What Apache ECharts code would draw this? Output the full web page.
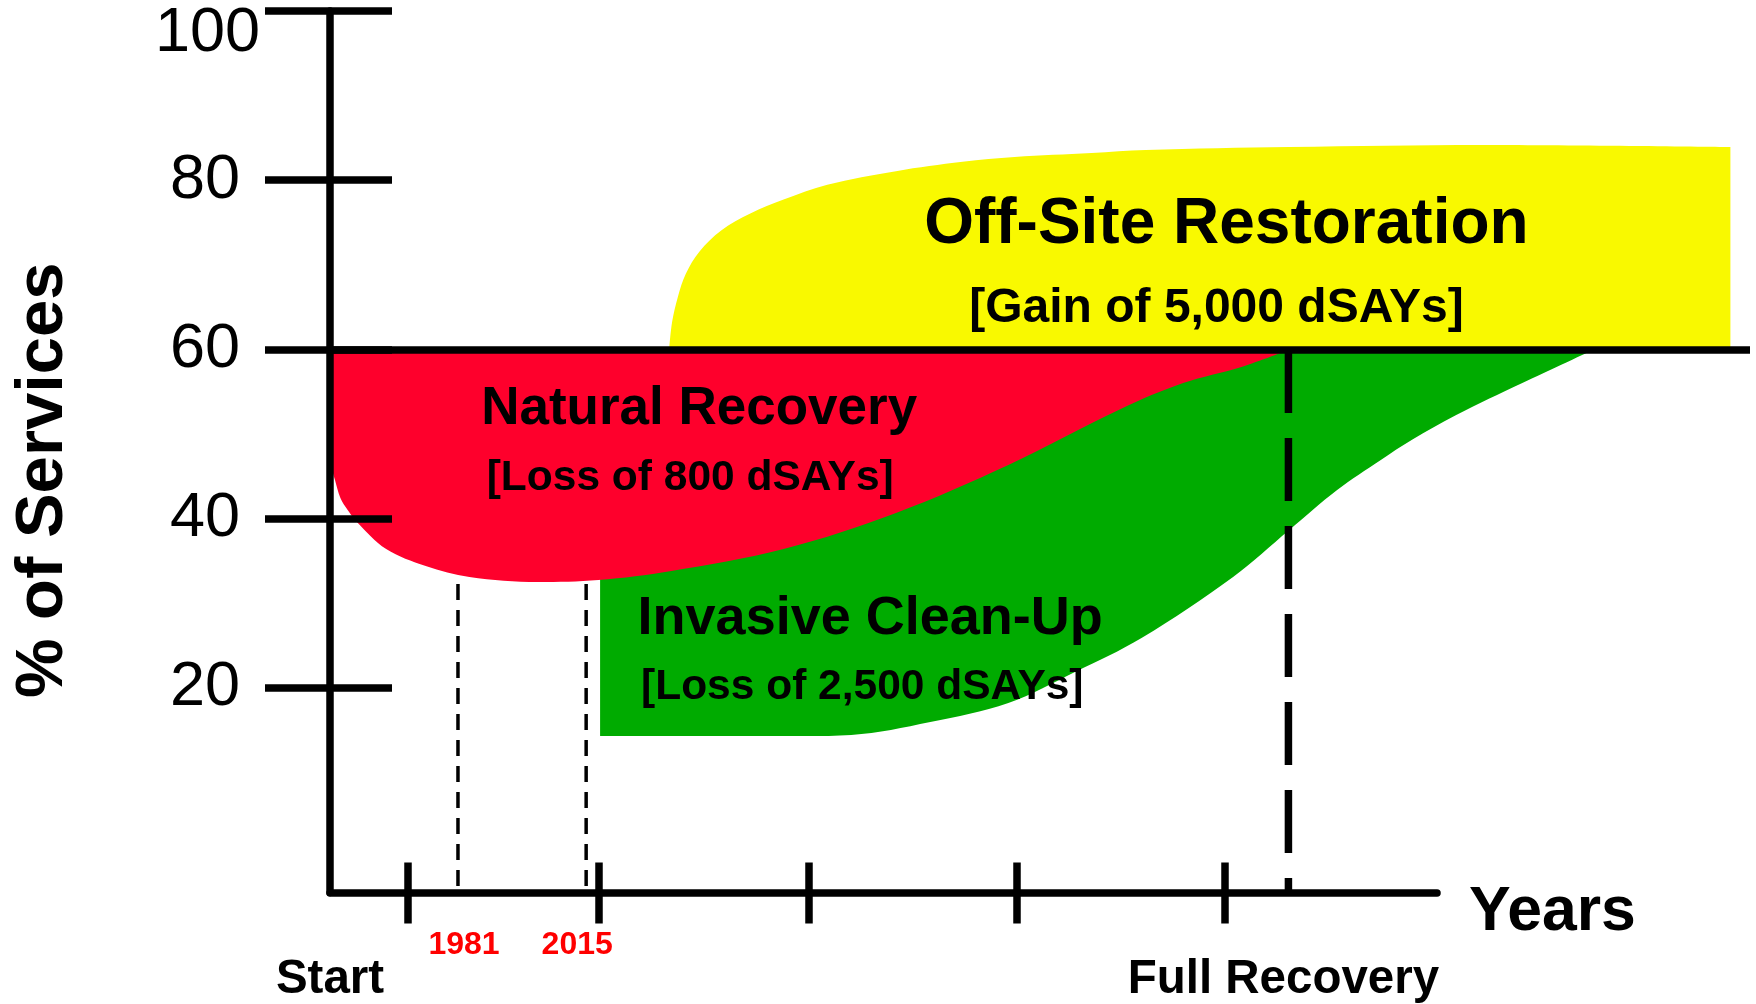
<!DOCTYPE html>
<html>
<head>
<meta charset="utf-8">
<script src="https://cdn.jsdelivr.net/npm/echarts@6/dist/echarts.min.js"></script>
<style>
html,body{margin:0;padding:0;background:#ffffff;}
#c{width:1756px;height:1004px;}
</style>
</head>
<body>
<div id="c"></div>
<script>
// ---------------- data (x: relative time units, y: % of services) ----------------
const yTickValues = [20, 40, 60, 80, 100];
const xTickValues = [3.75, 12.93, 23.0, 33.0, 43.0];
const xLabelTexts = ['Start', '1981', '2015', 'Full Recovery'];
const xLabelValues = [0, 6.44, 11.88, 45.82];
const baselineLevel = 60;

// lower edge of the red "Natural Recovery" band (upper edge is the 60 % line)
const naturalRecovery = [[0,46.8],[0.24,44.66],[0.5,42.54],[0.85,41.12],[1.28,39.74],[2.7,36.52],[4.6,34.52],[6.7,33.22],[10.0,32.63],[12.9,32.86],[16.4,33.93],[21.8,36.52],[27.2,40.77],[32.6,46.43],[38.0,53.04],[41.0,56.1],[43.8,58.0],[46.05,60]];
// lower edge of the green "Invasive Clean-Up" band
const invasiveCleanUp = [[12.98,14.46],[22.88,14.46],[25.05,14.58],[28.85,16.11],[32.6,18.35],[35.8,22.01],[39.0,26.02],[43.4,33.22],[46.1,38.76],[48.4,43.48],[50.5,47.02],[52.0,49.4],[54.1,52.3],[57.3,56.1],[60.7,60]];
// upper edge of the yellow "Off-Site Restoration" band
const offSiteRestoration = [[16.3,60],[16.44,63.3],[16.72,66.3],[17.1,69.0],[17.75,71.6],[18.8,74.1],[20.2,76.1],[21.8,77.75],[23.9,79.5],[27.2,81.1],[30.4,82.2],[32.9,82.77],[36.6,83.24],[39.2,83.6],[46.1,83.95],[55.4,84.19],[67.3,83.95]];

const markerYears = [6.15, 12.31];      // dashed markers for 1981 and 2015
const fullRecoveryAt = 46.06;           // dashed "Full Recovery" marker

const regionTitles = ['Off-Site Restoration', 'Natural Recovery', 'Invasive Clean-Up'];
const regionTitleAt = [[43.08,74.7],[17.74,53.0],[25.96,28.2]];
const regionNotes = ['[Gain of 5,000 dSAYs]', '[Loss of 800 dSAYs]', '[Loss of 2,500 dSAYs]'];
const regionNoteAt = [[42.6,64.9],[17.31,44.85],[25.58,20.2]];

const yMin = -4.18, yMax = 100, xMax = 53.2;

// ---------------- layout / styles ----------------
const W = 1756;
const G_LEFT = 330, G_TOP = 11, G_BOTTOM = 110, G_RIGHT_AXIS = 319, G_RIGHT_WIDE = 6;
// the drawing area to the right of the x axis end shares the same scale
const xMaxWide = xMax * (W - G_RIGHT_WIDE - G_LEFT) / (W - G_RIGHT_AXIS - G_LEFT);

const FONT = "'Liberation Sans', Arial, Helvetica, sans-serif";
const C_RED = '#FE002C', C_GREEN = '#00AB00', C_YELLOW = '#F9F900';
const titleSizes = [64, 53, 54];
const noteSizes = [48, 42.5, 42.5];
const AXW = 7.5;

function areaSeries(name, data, color, z) {
  return {
    name: name, type: 'line', xAxisIndex: 3, yAxisIndex: 3, data: data, z: z,
    smooth: 0.35, symbol: 'none', silent: true,
    lineStyle: {width: 0, opacity: 0},
    areaStyle: {color: color, opacity: 1, origin: baselineLevel}
  };
}
function vLine(x, yTop, width, dash, z) {
  return {
    type: 'line', xAxisIndex: 3, yAxisIndex: 3, data: [[x, yTop], [x, yMin]], z: z,
    symbol: 'none', silent: true,
    lineStyle: {color: '#000', width: width, type: dash, cap: 'butt'}
  };
}
function fmtX(v) {
  let best = 0;
  for (let i = 1; i < xLabelValues.length; i++) {
    if (Math.abs(xLabelValues[i] - v) < Math.abs(xLabelValues[best] - v)) best = i;
  }
  const t = xLabelTexts[best];
  return /^\d+$/.test(t) ? '{r|' + t + '}' : '{b|' + t + '}';
}
function textSeries(texts, at, sizes, z) {
  return {
    type: 'custom', xAxisIndex: 3, yAxisIndex: 3, z: z, silent: true, clip: false,
    data: at,
    renderItem: function (params, api) {
      const i = params.dataIndex;
      const p = api.coord([api.value(0), api.value(1)]);
      return {
        type: 'text', x: p[0], y: p[1],
        style: {text: texts[i], fill: '#000', fontSize: sizes[i], fontWeight: 'bold',
                fontFamily: FONT, align: 'center', verticalAlign: 'middle'}
      };
    }
  };
}
function hiddenAxisParts() {
  return {axisLine: {show: false, onZero: false}, axisTick: {show: false},
          axisLabel: {show: false}, splitLine: {show: false}};
}

const chart = echarts.init(document.getElementById('c'), null, {renderer: 'canvas'});
const option = {
  animation: false,
  backgroundColor: '#ffffff',
  textStyle: {fontFamily: FONT},
  grid: [
    {left: G_LEFT, right: G_RIGHT_AXIS, top: G_TOP, bottom: G_BOTTOM, containLabel: false},
    {left: G_LEFT, right: G_RIGHT_WIDE, top: G_TOP, bottom: G_BOTTOM, containLabel: false}
  ],
  xAxis: [
    {
      gridIndex: 0, type: 'value', min: 0, max: xMax, position: 'bottom', z: 10,
      axisLine: {show: true, onZero: false, lineStyle: {color: '#000', width: AXW, cap: 'round'}},
      axisTick: {show: true, inside: false, length: 31, customValues: xTickValues,
                 lineStyle: {color: '#000', width: AXW}},
      axisLabel: {show: true, customValues: xLabelValues, margin: 38, formatter: fmtX,
        rich: {
          r: {fontSize: 32, fontWeight: 'bold', color: '#FF0000', lineHeight: 30, fontFamily: FONT},
          b: {fontSize: 47.5, fontWeight: 'bold', color: '#000', lineHeight: 99, fontFamily: FONT}
        }},
      splitLine: {show: false}
    },
    {
      gridIndex: 0, type: 'value', min: 0, max: xMax, position: 'bottom', z: 10,
      axisLine: {show: false, onZero: false},
      axisTick: {show: true, inside: true, length: 30, customValues: xTickValues,
                 lineStyle: {color: '#000', width: AXW}},
      axisLabel: {show: false}, splitLine: {show: false}
    },
    Object.assign({
      gridIndex: 0, type: 'value', min: 0, max: xMax, position: 'bottom', offset: 20, z: 10,
      name: 'Years', nameLocation: 'end', nameGap: 32,
      nameTextStyle: {fontSize: 62.5, fontWeight: 'bold', color: '#000', fontFamily: FONT}
    }, hiddenAxisParts()),
    Object.assign({gridIndex: 1, type: 'value', min: 0, max: xMaxWide}, hiddenAxisParts())
  ],
  yAxis: [
    {
      gridIndex: 0, type: 'value', min: yMin, max: yMax, position: 'left', z: 10,
      axisLine: {show: true, onZero: false, lineStyle: {color: '#000', width: AXW}},
      axisTick: {show: true, inside: false, length: 65, customValues: yTickValues,
                 lineStyle: {color: '#000', width: AXW}},
      axisLabel: {show: true, customValues: yTickValues.filter(v => v < yMax), margin: 90,
                  fontSize: 63, color: '#000', fontFamily: FONT},
      splitLine: {show: false},
      name: '% of Services', nameLocation: 'middle', nameRotate: 90, nameGap: 253,
      nameTextStyle: {fontSize: 67, fontWeight: 'bold', color: '#000', fontFamily: FONT, padding: [0, 57, 0, 0]}
    },
    {
      gridIndex: 0, type: 'value', min: yMin, max: yMax, position: 'left', z: 10,
      axisLine: {show: false, onZero: false},
      axisTick: {show: true, inside: true, length: 62, customValues: yTickValues,
                 lineStyle: {color: '#000', width: AXW}},
      axisLabel: {show: false}, splitLine: {show: false}
    },
    {
      gridIndex: 0, type: 'value', min: yMin, max: yMax, position: 'left', z: 10,
      axisLine: {show: false, onZero: false}, axisTick: {show: false}, splitLine: {show: false},
      axisLabel: {show: true, customValues: [yMax], margin: 70,
        formatter: v => '{t|' + v + '}',
        rich: {t: {fontSize: 63, color: '#000', fontFamily: FONT, padding: [45, 0, 0, 0]}}}
    },
    Object.assign({gridIndex: 1, type: 'value', min: yMin, max: yMax}, hiddenAxisParts())
  ],
  series: [
    vLine(markerYears[0], baselineLevel, 3.5, [16, 10], 2),
    vLine(markerYears[1], baselineLevel, 3.5, [16, 10], 2),
    areaSeries('Invasive Clean-Up', invasiveCleanUp, C_GREEN, 3),
    areaSeries('Natural Recovery', naturalRecovery, C_RED, 4),
    areaSeries('Off-Site Restoration', offSiteRestoration, C_YELLOW, 4),
    {
      type: 'line', xAxisIndex: 3, yAxisIndex: 3, z: 5, symbol: 'none', silent: true,
      data: [[0, baselineLevel], [xMaxWide, baselineLevel]],
      lineStyle: {color: '#000', width: AXW, cap: 'butt'}
    },
    vLine(fullRecoveryAt, baselineLevel, AXW, [63, 25], 6),
    textSeries(regionTitles, regionTitleAt, titleSizes, 7),
    textSeries(regionNotes, regionNoteAt, noteSizes, 7)
  ]
};
chart.setOption(option);
</script>
</body>
</html>
